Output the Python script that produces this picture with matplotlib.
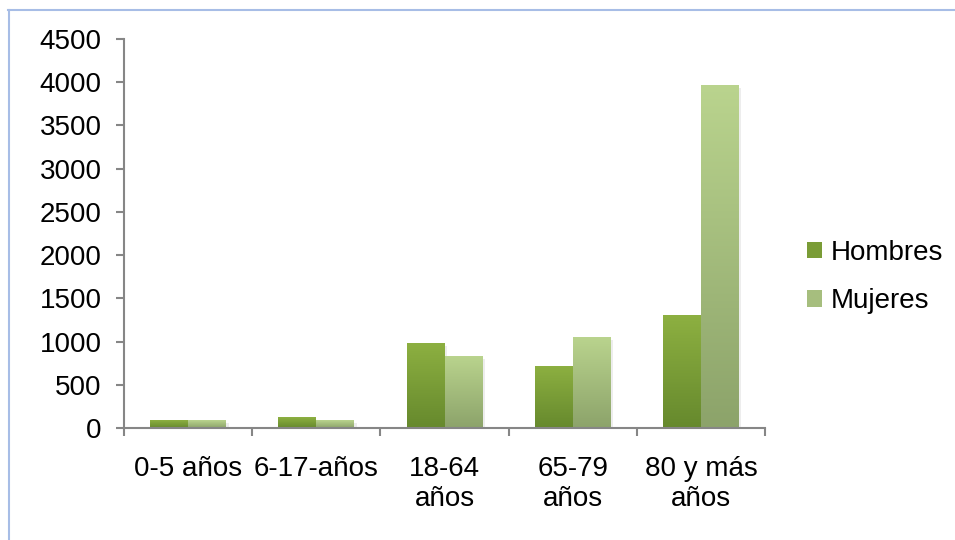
import numpy as np
import matplotlib
matplotlib.use('Agg')
import matplotlib.pyplot as plt
from matplotlib.colors import LinearSegmentedColormap
from matplotlib.lines import Line2D
from matplotlib.patches import Patch
import matplotlib.patheffects as pe

plt.rcParams['font.family'] = ['Liberation Sans', 'DejaVu Sans']

# data
categories = ['0-5 años', '6-17-años', '18-64\naños', '65-79\naños', '80 y más\naños']
hombres = [90, 125, 985, 720, 1305]
mujeres = [90, 90, 835, 1055, 3970]
series_names = ['Hombres', 'Mujeres']

# gradient colours (top, bottom)
grad_h = ('#8DB041', '#66892D')
grad_m = ('#BAD48E', '#8CA36A')

fig = plt.figure(figsize=(9.55, 5.4), dpi=100)
fig.patch.set_facecolor('white')
ax = fig.add_axes([124/955, 1-428/540, (765-124)/955, (428-39)/540])

x = np.arange(len(categories))
w = 0.295

shadow = [pe.SimplePatchShadow(offset=(2, -2), shadow_rgbFace='#000000', alpha=0.07), pe.Normal()]
bars_h = ax.bar(x - w/2, hombres, w, color=grad_h[1], linewidth=0, path_effects=shadow, zorder=2)
bars_m = ax.bar(x + w/2, mujeres, w, color=grad_m[1], linewidth=0, path_effects=shadow, zorder=2)

# fill each bar with a vertical gradient clipped to the bar
grad = np.linspace(1, 0, 256).reshape(-1, 1)
for bars, (top, bot) in [(bars_h, grad_h), (bars_m, grad_m)]:
    cmap = LinearSegmentedColormap.from_list('g', [bot, top])
    for b in bars:
        x0, y0 = b.get_x(), b.get_y()
        im = ax.imshow(grad, cmap=cmap, aspect='auto', vmin=0, vmax=1,
                       extent=(x0, x0 + b.get_width(), y0, y0 + b.get_height()),
                       zorder=3, interpolation='bilinear')
        im.set_clip_path(b)

ax.set_xlim(-0.5, len(categories) - 0.5)
ax.set_ylim(0, 4500)
ax.set_yticks(np.arange(0, 4501, 500))

fs = 20
axis_col = '#868686'
ax.set_xticks(np.arange(len(categories) + 1) - 0.5)
ax.set_xticklabels([])
ax.set_xticks(x, minor=True)
ax.set_xticklabels(categories, minor=True, fontsize=fs, linespacing=1.2)
ax.tick_params(axis='x', which='major', length=5.5, width=1.5, color=axis_col, direction='out')
ax.tick_params(axis='x', which='minor', length=0, pad=20)
ax.tick_params(axis='y', length=6, width=1.5, color=axis_col, direction='out', pad=10, labelsize=fs)
ax.set_axisbelow(False)

for s in ['top', 'right']:
    ax.spines[s].set_visible(False)
for s in ['left', 'bottom']:
    ax.spines[s].set_color(axis_col)
    ax.spines[s].set_linewidth(1.5)
    ax.spines[s].set_zorder(5)

handles = [Patch(facecolor='#7A9C36', edgecolor='none'),
           Patch(facecolor='#A6BE7E', edgecolor='none')]
fig.legend(handles, series_names, loc='center left', bbox_to_anchor=(782/955, 1-277/540),
           frameon=False, fontsize=fs, handlelength=0.55, handleheight=0.55,
           handletextpad=0.3, labelspacing=0.8)

# light blue chart border
border = '#A7BDE6'
fig.add_artist(Line2D([8.5/955, 8.5/955], [0, 1-10/540], color=border, lw=1.5, transform=fig.transFigure))
fig.add_artist(Line2D([8/955, 1], [1-10/540, 1-10/540], color=border, lw=1.5, transform=fig.transFigure))

fig.savefig('out.png', dpi=100)
